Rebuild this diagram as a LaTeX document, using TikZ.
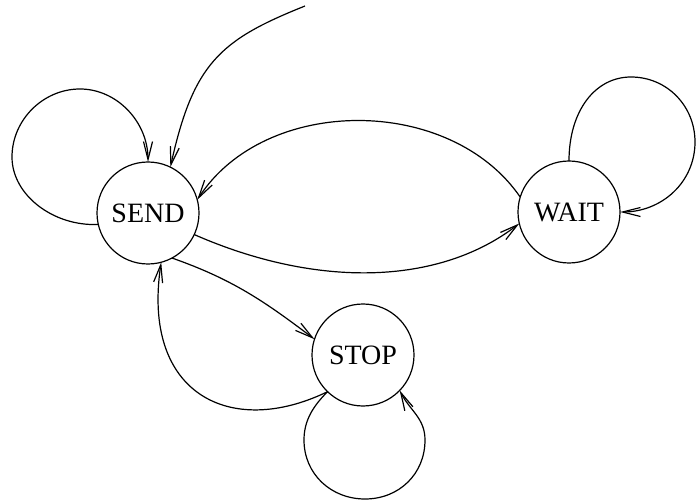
\documentclass[tikz,border=0pt]{standalone}
\usepackage{fontspec}
\setmainfont{Liberation Serif}
\usetikzlibrary{arrows.meta,positioning,shapes}
\tikzset{
  state/.style = {draw, circle, minimum size=51pt, inner sep=0pt, outer sep=0pt, font=\fontsize{14}{16}\selectfont},
  line/.style  = {-{Straight Barb[length=9pt,width=4.5pt]}, line width=0.6pt},
}

\begin{document}
\begin{tikzpicture}[x=0.5pt,y=-0.5pt,line width=0.6pt]
    \useasboundingbox (0,0) rectangle (696,502);
    \node[state] (send) at (148,213) {SEND};
    \node[state] (wait) at (569,212) {WAIT};
    \node[state] (stop) at (363,355) {STOP};
    \coordinate (init) at (305,6);

    % entry arrow
    \draw[line] (init) .. controls +(-85,34) and +(23,-104) .. (send.64);
    % self loops, roughly round
    \draw[line] (send.193) .. controls +(-45,2) and +(0,38) .. (12,157)
                           .. controls +(0,-37) and +(-37,0) .. (80,89)
                           .. controls +(37,0) and +(0,-40) .. (send.90);
    \draw[line] (wait.90) .. controls +(0,-50) and +(-36,0) .. (631,77)
                          .. controls +(36,0) and +(0,-36) .. (695,142)
                          .. controls +(0,40) and +(42,0) .. (wait.0);
    \draw[line] (stop.226) .. controls +(-14,14) and +(0,-20) .. (304,440)
                           .. controls +(0,34) and +(-34,0) .. (365,499)
                           .. controls +(34,0) and +(0,34) .. (425,440)
                           .. controls +(0,-22) and +(10,20) .. (stop.316);
    % transitions
    \draw[line] (wait.163) .. controls +(-70,-102) and +(68,-105) .. (send.15);
    \draw[line] (send.335) .. controls +(123,54) and +(-80,62) .. (wait.193);
    \draw[line] (send.298) .. controls +(60,21) and +(-50,-38) .. (stop.162);
    \draw[line] (stop.226) .. controls +(-97,47) and +(-20,132) .. (send.285);
\end{tikzpicture}
\end{document}
